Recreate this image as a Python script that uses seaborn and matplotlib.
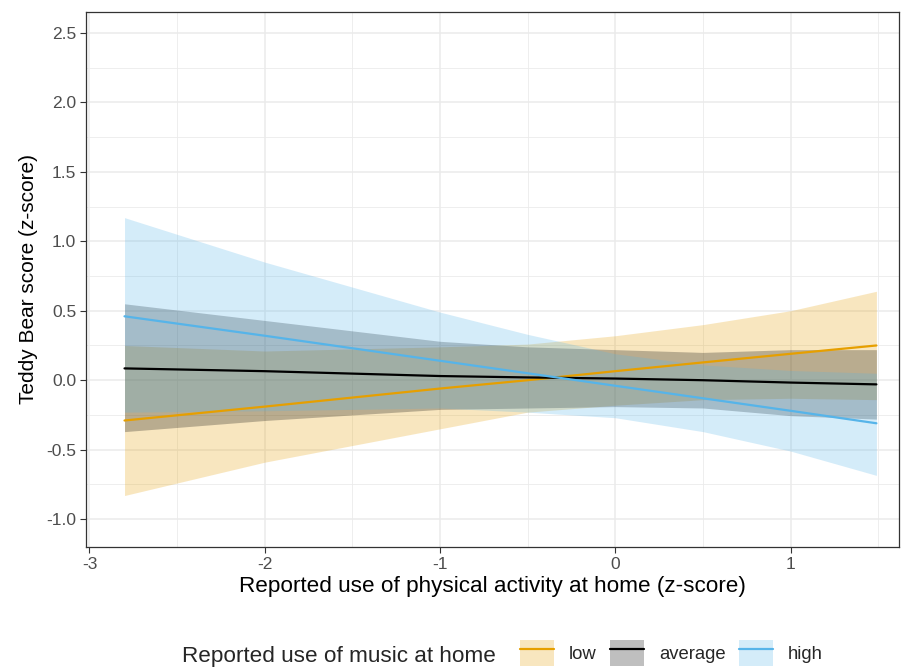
import pandas as pd
import matplotlib.pyplot as plt
import seaborn as sns
from matplotlib.patches import Patch
from matplotlib.lines import Line2D

# === Data (model predictions with 95% bands) ===
x_vals = [-2.8, -2.0, -1.0, -0.5, 0.0, 0.5, 1.0, 1.49]

low_fit = [-0.29, -0.19, -0.06, 0.00, 0.065, 0.128, 0.19, 0.25]
low_upper = [0.25, 0.21, 0.24, 0.26, 0.32, 0.40, 0.50, 0.64]
low_lower = [-0.83, -0.59, -0.35, -0.23, -0.18, -0.14, -0.13, -0.14]

avg_fit = [0.085, 0.065, 0.03, 0.02, 0.012, 0.0, -0.017, -0.03]
avg_upper = [0.55, 0.43, 0.28, 0.24, 0.22, 0.20, 0.22, 0.22]
avg_lower = [-0.37, -0.29, -0.21, -0.20, -0.19, -0.20, -0.255, -0.28]

high_fit = [0.46, 0.32, 0.14, 0.05, -0.04, -0.13, -0.22, -0.31]
high_upper = [1.17, 0.85, 0.49, 0.33, 0.19, 0.11, 0.07, 0.05]
high_lower = [-0.23, -0.22, -0.20, -0.23, -0.27, -0.37, -0.51, -0.685]

groups = ["low", "average", "high"]
colors = {"low": "#E69F00", "average": "#000000", "high": "#56B4E9"}

x_ticks = [-3, -2, -1, 0, 1]
x_labels = ["-3", "-2", "-1", "0", "1"]
y_ticks = [-1.0, -0.5, 0.0, 0.5, 1.0, 1.5, 2.0, 2.5]
y_labels = ["-1.0", "-0.5", "0.0", "0.5", "1.0", "1.5", "2.0", "2.5"]

# === Build long table ===
parts = []
for g, fit, lo, up in [("low", low_fit, low_lower, low_upper),
                       ("average", avg_fit, avg_lower, avg_upper),
                       ("high", high_fit, high_lower, high_upper)]:
    parts.append(pd.DataFrame({"x": x_vals, "fit": fit, "lower": lo,
                               "upper": up, "music": g}))
df = pd.concat(parts, ignore_index=True)

# === Style ===
sns.set_style("white")
plt.rcParams["font.family"] = ["Liberation Sans", "DejaVu Sans"]

fig = plt.figure(figsize=(9.01, 6.67), dpi=100)
ax = fig.add_axes([0.0954, 0.18, 0.9026, 0.802])

# ribbons first, then lines on top
for g in groups:
    sub = df[df["music"] == g]
    ax.fill_between(sub["x"], sub["lower"], sub["upper"],
                    color=colors[g], alpha=0.25, linewidth=0, zorder=2)

sns.lineplot(data=df, x="x", y="fit", hue="music", hue_order=groups,
             palette=colors, linewidth=1.6, legend=False, ax=ax, zorder=3)

ax.set_xlim(-3.02, 1.62)
ax.set_ylim(-1.20, 2.65)
ax.set_xticks(x_ticks)
ax.set_xticklabels(x_labels)
ax.set_yticks(y_ticks)
ax.set_yticklabels(y_labels)
ax.set_xticks([-2.5, -1.5, -0.5, 0.5, 1.5], minor=True)
ax.set_yticks([-0.75, -0.25, 0.25, 0.75, 1.25, 1.75, 2.25], minor=True)

ax.grid(which="major", color="#ebebeb", linewidth=1.1, zorder=0)
ax.grid(which="minor", color="#ebebeb", linewidth=0.6, zorder=0)
ax.set_axisbelow(True)
ax.tick_params(which="major", direction="out", length=4, width=0.8,
               color="#333333", labelcolor="#4d4d4d", labelsize=12.5,
               bottom=True, left=True, pad=3)
ax.tick_params(which="minor", length=0)
for s in ax.spines.values():
    s.set_color("#333333")
    s.set_linewidth(0.9)

ax.set_xlabel("Reported use of physical activity at home (z-score)",
              fontsize=16.2, color="black", labelpad=3)
ax.set_ylabel("Teddy Bear score (z-score)", fontsize=15, color="black",
              labelpad=6)

# === Legend at the bottom, title on the left ===
handles = [(Patch(facecolor=colors[g], alpha=0.25, edgecolor="none"),
            Line2D([], [], color=colors[g], linewidth=1.6)) for g in groups]
fig.text(182 / 901, 5 / 667, "Reported use of music at home", fontsize=16.2,
         ha="left", va="baseline")
fig.legend(handles, groups, loc="center left",
           bbox_to_anchor=(520 / 901, 14 / 667), ncol=3, frameon=False,
           fontsize=13.3, handlelength=1.85, handleheight=1.85,
           columnspacing=0.75, handletextpad=0.78, borderpad=0,
           borderaxespad=0)

plt.savefig("out.png", dpi=100)
